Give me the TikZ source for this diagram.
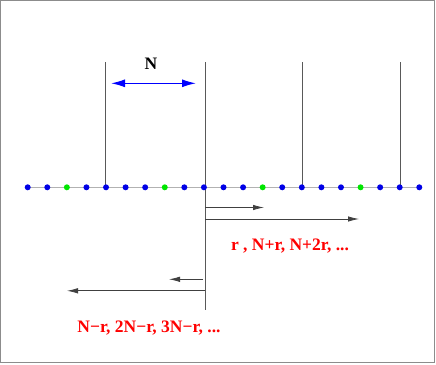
\documentclass[tikz,border=0pt]{standalone}
\usepackage{fontspec}
\setmainfont{Liberation Serif}
\usetikzlibrary{arrows.meta}
\definecolor{dotblue}{RGB}{0,0,230}
\definecolor{dotgreen}{RGB}{0,230,0}
\begin{document}
\begin{tikzpicture}[x=1pt,y=-1pt,
  frame/.style={draw=gray!90,line width=1.2pt},
  axis/.style={draw=gray!60,line width=1.2pt},
  vline/.style={draw=black!65,line width=0.8pt},
  arr/.style={draw=black!75,line width=0.8pt,-{Latex[length=11pt,width=5.5pt]}},
  barr/.style={draw=blue,line width=1.4pt,{Latex[length=14pt,width=8pt]}-{Latex[length=14pt,width=8pt]}},
  bdot/.style={circle,fill=dotblue,inner sep=0pt,minimum size=6pt},
  gdot/.style={circle,fill=dotgreen,inner sep=0pt,minimum size=6pt},
  lbl/.style={text=red,font=\fontsize{17.5}{20}\selectfont\bfseries},
  nlbl/.style={font=\fontsize{17.5}{20}\selectfont\bfseries}]
\useasboundingbox (0,0) rectangle (436,364);
\draw[frame] (0.6,0.6) rectangle (434.4,362.6);
% axis
\coordinate (aL) at (27.7,187.3);
\coordinate (aR) at (419.3,187.3);
\draw[axis] (aL) -- (aR);
% vertical lines
\coordinate (t1) at (105.5,62);
\coordinate (t2) at (205.3,62);
\coordinate (t3) at (302.7,62);
\coordinate (t4) at (400.2,62);
\coordinate (b2) at (205.3,310);
\draw[vline] (t1) -- (105.5,187.3);
\draw[vline] (t2) -- (b2);
\draw[vline] (t3) -- (302.7,187.3);
\draw[vline] (t4) -- (400.2,187.3);
% dots
\foreach \i in {0,...,20}{
  \pgfmathsetmacro{\xx}{27.7+19.58*\i}
  \pgfmathtruncatemacro{\m}{mod(\i,5)}
  \ifnum\m=2
    \node[gdot] (d\i) at (\xx,187.3) {};
  \else
    \node[bdot] (d\i) at (\xx,187.3) {};
  \fi
}
% blue arrow
\coordinate (bl) at (111,83.3);
\coordinate (br) at (196,83.3);
\draw[barr] (bl) -- (br);
\node[nlbl] (N) at (151,64) {N};
% right arrows
\coordinate (r1s) at (205.3,207.5);
\coordinate (r1e) at (264,207.5);
\coordinate (r2s) at (205.3,219);
\coordinate (r2e) at (359,219);
\draw[arr] (r1s) -- (r1e);
\draw[arr] (r2s) -- (r2e);
\node[lbl] (rt) at (290,246) {r , N+r, N+2r, ...};
% left arrows
\coordinate (l1s) at (203,279.3);
\coordinate (l1e) at (169,279.3);
\coordinate (l2s) at (205.3,290.8);
\coordinate (l2e) at (67,290.8);
\draw[arr] (l1s) -- (l1e);
\draw[arr] (l2s) -- (l2e);
\node[lbl] (lt) at (149,328) {N\textminus r, 2N\textminus r, 3N\textminus r, ...};
\end{tikzpicture}
\end{document}
